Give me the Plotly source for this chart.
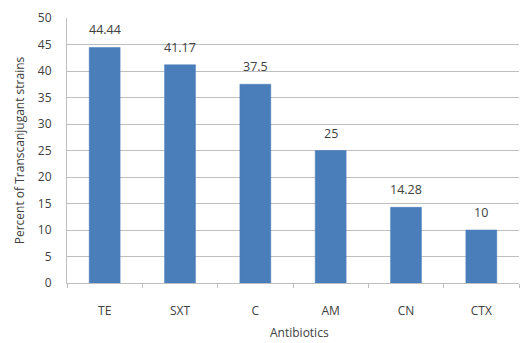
import plotly.graph_objects as go

antibiotics = ["TE", "SXT", "C", "AM", "CN", "CTX"]
percent = [44.44, 41.17, 37.5, 25, 14.28, 10]
value_labels = ["44.44", "41.17", "37.5", "25", "14.28", "10"]
y_ticks = [0, 5, 10, 15, 20, 25, 30, 35, 40, 45, 50]

font_family = "Open Sans, Liberation Sans, sans-serif"
text_color = "#404040"

fig = go.Figure(
    go.Bar(
        x=antibiotics,
        y=percent,
        marker=dict(color="#4A7EBB", line=dict(color="#4579B8", width=0.5)),
        width=0.41,
    )
)

# value labels sit a little above each bar
for cat, val, lab in zip(antibiotics, percent, value_labels):
    fig.add_annotation(
        x=cat, y=val, text=lab, showarrow=False,
        yanchor="bottom", yshift=7,
        font=dict(size=12.5, color=text_color, family=font_family),
    )

# x-axis title, placed slightly right of centre below the tick labels
fig.add_annotation(
    x=0.515, y=-0.188, xref="paper", yref="paper", text="Antibiotics",
    showarrow=False, xanchor="center", yanchor="middle",
    font=dict(size=12, color=text_color, family=font_family),
)

fig.update_layout(
    width=523,
    height=343,
    margin=dict(l=67, r=4, t=18, b=60),
    paper_bgcolor="white",
    plot_bgcolor="white",
    showlegend=False,
    font=dict(family=font_family, size=12, color=text_color),
)

fig.update_yaxes(
    range=[0, 50],
    tickvals=y_ticks,
    automargin=False,
    showgrid=True,
    gridcolor="#BFBFBF",
    gridwidth=1.3,
    showline=True,
    linecolor="#BFBFBF",
    linewidth=1,
    ticks="",
    ticklabelstandoff=12,
    zeroline=False,
    tickfont=dict(size=12, color=text_color),
    title=dict(text="Percent of Transcanjugant strains", standoff=10,
               font=dict(size=12, color=text_color)),
)

fig.update_xaxes(
    automargin=False,
    showline=True,
    linecolor="#BFBFBF",
    linewidth=1.3,
    ticks="outside",
    tickson="boundaries",
    ticklen=4,
    tickcolor="#BFBFBF",
    ticklabelstandoff=16,
    tickfont=dict(size=12, color=text_color),
)

fig.write_html("out.html")
